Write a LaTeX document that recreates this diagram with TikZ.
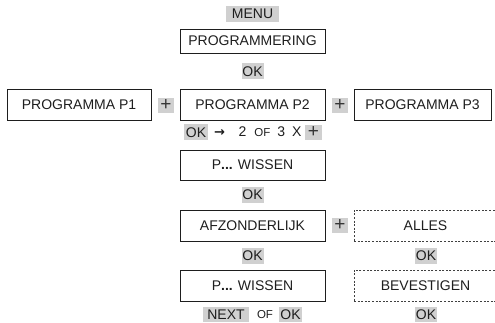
\documentclass[tikz,border=0pt]{standalone}
\usepackage{fontspec}
\setmainfont{Liberation Sans}
\newfontfamily\arrowfont{DejaVu Sans}
\usetikzlibrary{positioning}
\definecolor{keygray}{RGB}{208,208,208}
\definecolor{inkgray}{RGB}{30,30,30}

\begin{document}
\begin{tikzpicture}[x=1pt,y=1pt,inner sep=0pt,outer sep=0pt,
	font=\fontsize{14}{16}\selectfont, text=inkgray]
	  \tikzstyle{screen}=[draw=inkgray,line width=1pt,minimum width=145pt,minimum height=31pt]
	  \tikzstyle{dashscreen}=[screen,draw=inkgray!85,line width=0.8pt,dash pattern=on 2pt off 1.6pt,minimum width=143pt]
	  \tikzstyle{key}=[fill=keygray,minimum height=16pt,minimum width=22pt,text depth=0pt,text height=10pt]
	  \tikzstyle{plus}=[key,minimum width=16pt,minimum height=15pt,font=\fontsize{19}{19}\selectfont,text=inkgray!90,text height=10.5pt]
	  \tikzstyle{small}=[font=\fontsize{11.5}{12}\selectfont]

	  \useasboundingbox (0,0) rectangle (495,-322);

	  \node[key,minimum width=53pt] (menu) at (252.5,-13.5) {MENU};
	  \node[screen,minimum height=24pt] (prog) at (252.5,-41) {PROGRAMMERING};
	  \node[key] (ok1) at (252.5,-71) {OK};

	  \node[screen,minimum width=144pt] (p1) at (79,-104.5) {PROGRAMMA P1};
	  \node[plus] (plus1) at (166,-105.5) {+};
	  \node[screen] (p2) at (252.5,-104.5) {PROGRAMMA P2};
	  \node[plus] (plus2) at (340,-105.5) {+};
	  \node[screen,minimum width=137pt] (p3) at (422.5,-104.5) {PROGRAMMA P3};

	  \node[key,minimum width=24pt] (okA) at (196,-132) {OK};
	  \node[font=\fontsize{13}{14}\selectfont\arrowfont\bfseries] (arrow) at (219.5,-132.5) {→};
	  \node (times) at (270,-132) {2\hspace{8pt}{\fontsize{11.5}{12}\selectfont OF}\hspace{7pt}3\hspace{7pt}X};
	  \node[plus,minimum width=17pt] (plusA) at (313.5,-132) {+};

	  \node[screen,minimum height=30pt] (wis1) at (252.5,-165) {P\textbf{...} WISSEN};
	  \node[key] (ok2) at (252.5,-194.5) {OK};

	  \node[screen] (afz) at (252.5,-225.5) {AFZONDERLIJK};
	  \node[plus] (plus3) at (340,-225.5) {+};
	  \node[key] (ok3) at (252.5,-255.5) {OK};
	  \node[key] (ok4) at (426,-255.5) {OK};

	  \node[screen] (wis2) at (252.5,-285.5) {P\textbf{...} WISSEN};
	  \node[key,minimum width=46pt,minimum height=15pt] (next) at (226,-314.5) {NEXT};
	  \node[small] (of) at (265,-314.5) {OF};
	  \node[key,minimum width=23pt,minimum height=15pt] (ok5) at (290.5,-314.5) {OK};
	  \node[key,minimum height=15pt] (ok6) at (426,-314.5) {OK};

	  \begin{scope}
	  \clip (0,0) rectangle (495,-322);
	  \node[dashscreen] (alles) at (425.5,-225.5) {ALLES};
	  \node[dashscreen] (bev) at (425.5,-285.5) {BEVESTIGEN};
	  \end{scope}
	\end{tikzpicture}
\end{document}
